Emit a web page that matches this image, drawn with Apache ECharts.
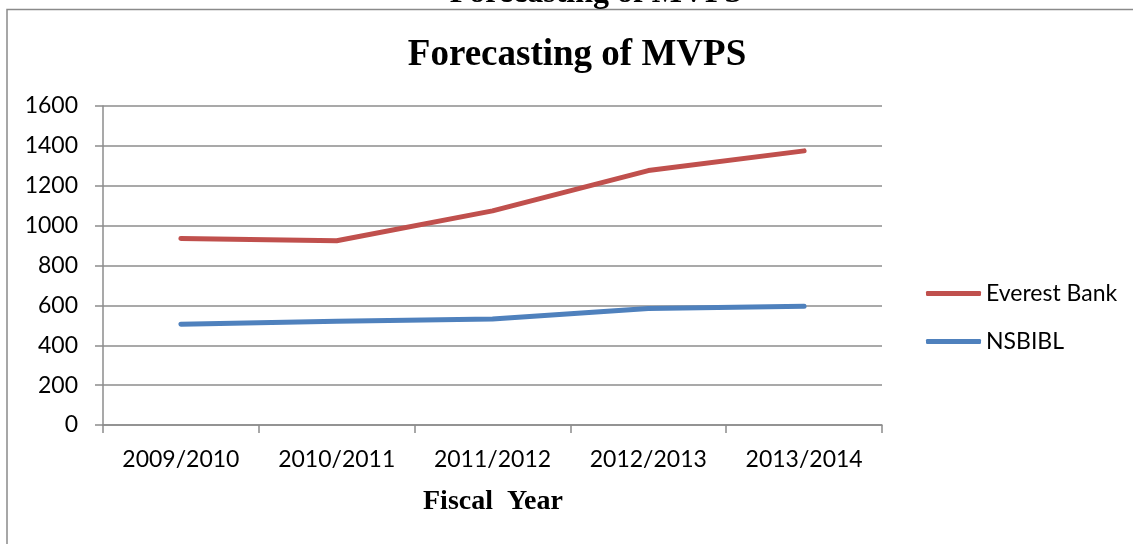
<!DOCTYPE html>
<html>
<head>
<meta charset="utf-8">
<script src="https://cdn.jsdelivr.net/npm/echarts@6/dist/echarts.min.js"></script>
<style>html,body{margin:0;padding:0;background:#fff;}#c{width:1133px;height:544px;}</style>
</head>
<body>
<div id="c"></div>
<script>
const categories = ['2009/2010', '2010/2011', '2011/2012', '2012/2013', '2013/2014'];
const everestBank = [936, 924, 1074, 1276, 1375];
const nsbibl = [505, 520, 532, 584, 595];
const yTicks = [0, 200, 400, 600, 800, 1000, 1200, 1400, 1600];

const chart = echarts.init(document.getElementById('c'), null, {renderer: 'canvas'});
const gray = '#8c8c8c';
chart.setOption({
  backgroundColor: '#fff',
  animation: false,
  graphic: [
    {type: 'rect', shape: {x: 7, y: 9.5, width: 1140, height: 600},
     style: {fill: 'none', stroke: '#8a8a8a', lineWidth: 1.5}, silent: true},
    {type: 'text', x: 596, y: 10, style: {text: 'Forecasting of MVPS', font: 'bold 32px "Liberation Serif"', fill: '#000', align: 'center', verticalAlign: 'bottom'}},
    {type: 'text', x: 577, y: 55, style: {text: 'Forecasting of MVPS', font: 'bold 37px "Liberation Serif"', fill: '#000', align: 'center', verticalAlign: 'middle'}},
    {type: 'text', x: 493, y: 502, style: {text: 'Fiscal  Year', font: 'bold 28px "Liberation Serif"', fill: '#000', align: 'center', verticalAlign: 'middle'}}
  ],
  grid: {left: 103, right: 251, top: 106, bottom: 119, containLabel: false},
  legend: {
    orient: 'vertical', left: 921, top: 277, itemGap: 25,
    itemWidth: 55, itemHeight: 5, icon: 'roundRect',
    textStyle: {fontFamily: 'Lato', fontSize: 23, color: '#000', lineHeight: 23},
    data: ['Everest Bank', 'NSBIBL']
  },
  xAxis: {
    type: 'category', data: categories, boundaryGap: true,
    axisLine: {lineStyle: {color: gray, width: 1.5}},
    axisTick: {show: true, length: 8, lineStyle: {color: gray, width: 1.5}},
    axisLabel: {fontFamily: 'Lato', fontSize: 23, color: '#000', margin: 23}
  },
  yAxis: {
    type: 'value', min: yTicks[0], max: yTicks[yTicks.length - 1], interval: 200,
    axisLine: {show: true, lineStyle: {color: gray, width: 1.5}},
    axisTick: {show: true, length: 8, lineStyle: {color: gray, width: 1.5}},
    splitLine: {lineStyle: {color: gray, width: 1.5}},
    axisLabel: {fontFamily: 'Lato', fontSize: 23, color: '#000', margin: 25, formatter: v => String(v)}
  },
  series: [
    {name: 'Everest Bank', type: 'line', data: everestBank, showSymbol: false, symbol: 'none',
     lineStyle: {color: '#C0504D', width: 5, cap: 'round', join: 'round'}, itemStyle: {color: '#C0504D'}},
    {name: 'NSBIBL', type: 'line', data: nsbibl, showSymbol: false, symbol: 'none',
     lineStyle: {color: '#4F81BD', width: 5, cap: 'round', join: 'round'}, itemStyle: {color: '#4F81BD'}}
  ]
});
</script>
</body>
</html>
